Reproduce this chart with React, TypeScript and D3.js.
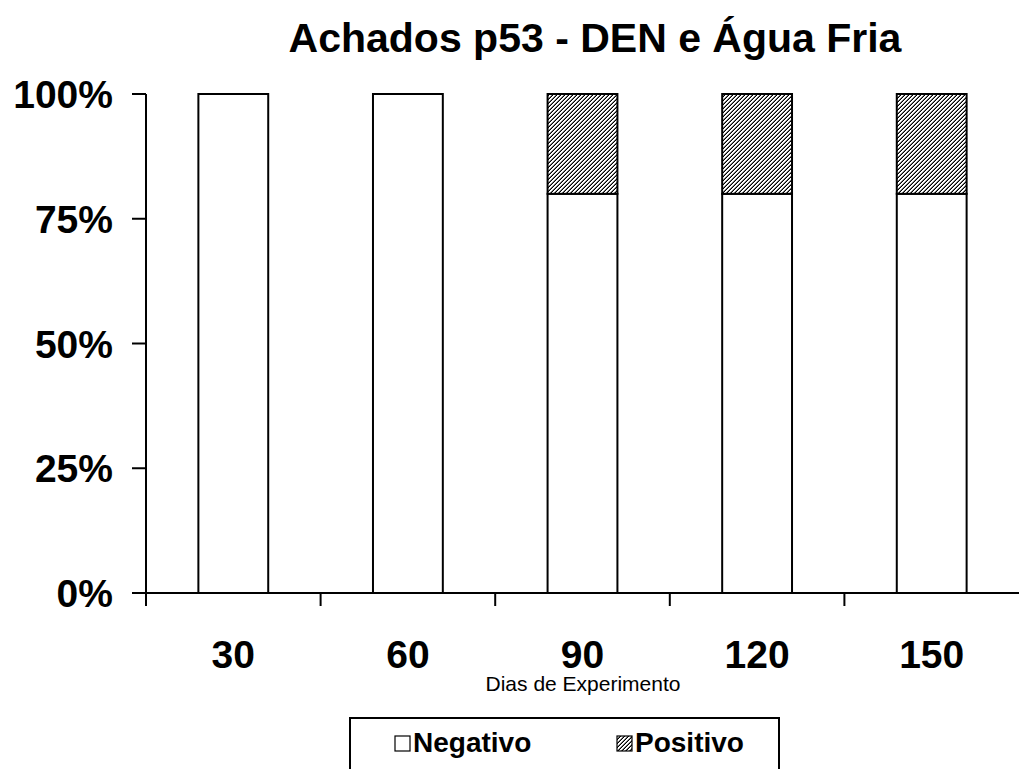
import React from "react";
import * as d3 from "d3";

const days = ["30", "60", "90", "120", "150"];
const negativo = [100, 100, 80, 80, 80];
const positivo = [0, 0, 20, 20, 20];
const yTicks = [0, 25, 50, 75, 100];
const seriesNames = ["Negativo", "Positivo"];

export default function App() {
  const width = 1019;
  const height = 769;
  const margin = { top: 94, right: 0, bottom: 176, left: 146 };

  const x = d3.scaleBand<string>()
    .domain(days)
    .range([margin.left, width - margin.right])
    .paddingInner(0.6)
    .paddingOuter(0.3);

  const y = d3.scaleLinear()
    .domain([0, 100])
    .range([height - margin.bottom, margin.top]);

  const stackData = days.map((d, i) => ({ day: d, Negativo: negativo[i], Positivo: positivo[i] }));
  const stack = d3.stack<any>().keys(seriesNames)(stackData);
  const fills = ["#ffffff", "url(#hatch)"];

  const step = x.step();
  const x0 = margin.left;
  const xEnd = width - margin.right;
  const yBase = y(0);
  const font = "'Liberation Sans', Arial, sans-serif";

  return (
    <svg width={width} height={height} style={{ position: "absolute", left: 0, top: 0, background: "#fff" }}>
      <defs>
        <pattern id="hatch" width="4" height="4" patternUnits="userSpaceOnUse">
          <rect width="4" height="4" fill="#ffffff" />
          <rect x="0" y="3" width="1" height="1" fill="#000" />
          <rect x="1" y="2" width="1" height="1" fill="#000" />
          <rect x="2" y="1" width="1" height="1" fill="#000" />
          <rect x="3" y="0" width="1" height="1" fill="#000" />
          <rect x="0" y="2" width="1" height="1" fill="#777" />
          <rect x="1" y="1" width="1" height="1" fill="#777" />
          <rect x="2" y="0" width="1" height="1" fill="#777" />
          <rect x="3" y="3" width="1" height="1" fill="#777" />
        </pattern>
      </defs>

      {/* title */}
      <text x={595} y={52} textAnchor="middle" fontFamily={font} fontWeight="bold" fontSize={41}>
        Achados p53 - DEN e Água Fria
      </text>

      {/* bars */}
      {stack.map((s, si) => (
        <g key={s.key}>
          {s.map((d, i) => d[1] - d[0] > 0 && (
            <rect
              key={i}
              x={x(days[i])}
              y={y(d[1])}
              width={x.bandwidth()}
              height={y(d[0]) - y(d[1])}
              fill={fills[si]}
              stroke="#000"
              strokeWidth={2}
            />
          ))}
        </g>
      ))}

      {/* y axis */}
      <line x1={x0} x2={x0} y1={y(100)} y2={yBase} stroke="#000" strokeWidth={2} />
      {yTicks.map(t => (
        <g key={t}>
          <line x1={x0 - 14} x2={x0} y1={y(t)} y2={y(t)} stroke="#000" strokeWidth={2} />
          <text x={113} y={y(t) + 14} textAnchor="end" fontFamily={font} fontWeight="bold" fontSize={39}>
            {t}%
          </text>
        </g>
      ))}

      {/* x axis */}
      <line x1={x0} x2={xEnd} y1={yBase} y2={yBase} stroke="#000" strokeWidth={2} />
      {days.map((d, i) => (
        <line key={"t" + d} x1={x0 + i * step} x2={x0 + i * step} y1={yBase} y2={yBase + 13} stroke="#000" strokeWidth={2} />
      ))}
      {days.map(d => (
        <text key={d} x={(x(d) as number) + x.bandwidth() / 2} y={668} textAnchor="middle"
          fontFamily={font} fontWeight="bold" fontSize={39}>
          {d}
        </text>
      ))}
      <text x={583} y={691} textAnchor="middle" fontFamily={font} fontSize={21}>
        Dias de Experimento
      </text>

      {/* legend */}
      <rect x={350} y={718} width={429} height={60} fill="#fff" stroke="#000" strokeWidth={2} />
      {seriesNames.map((n, i) => (
        <g key={n} transform={`translate(${395 + i * 222},736)`}>
          <rect x={0} y={0} width={15} height={15} fill={fills[i]} stroke="#000" strokeWidth={1.2} />
          <text x={18} y={16} fontFamily={font} fontWeight="bold" fontSize={28}>{n}</text>
        </g>
      ))}
    </svg>
  );
}
